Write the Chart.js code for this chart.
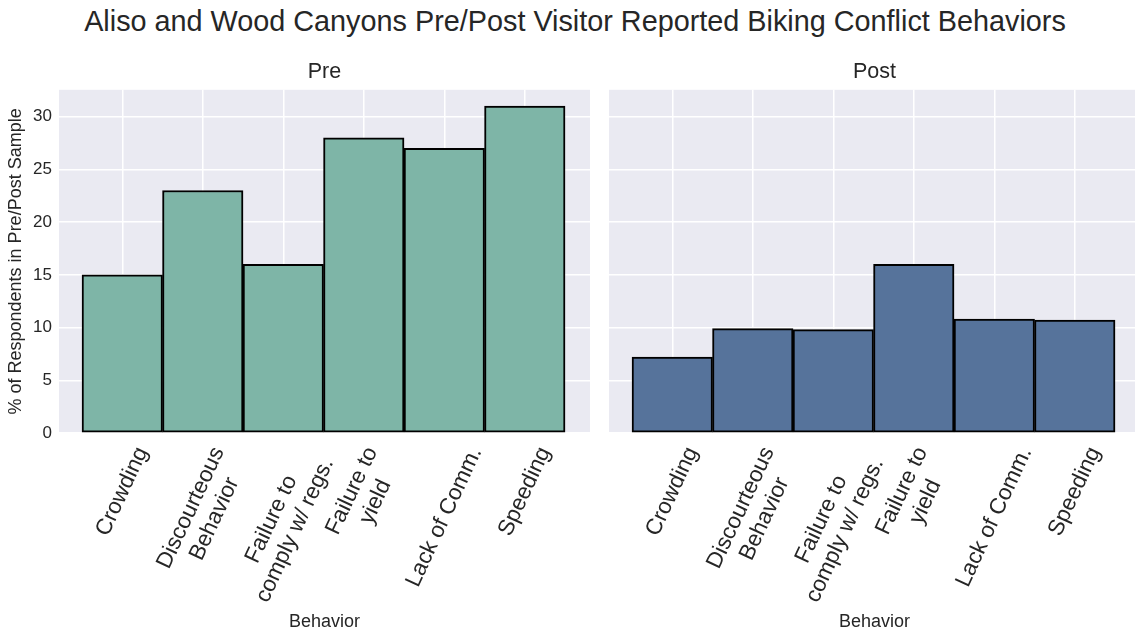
<!DOCTYPE html>
<html>
<head>
<meta charset="utf-8">
<script src="https://cdn.jsdelivr.net/npm/chart.js@4"></script>
<style>
  body { margin: 0; background: #fff; width: 1135px; height: 633px; overflow: hidden; position: relative;
         font-family: "Liberation Sans", Arial, sans-serif; }
  #title { position: absolute; left: 0; width: 1150px; top: 5px; text-align: center; font-size: 28.8px; color: #262626; }
  .box { position: absolute; top: 0; height: 633px; }
</style>
</head>
<body>
<div id="title">Aliso and Wood Canyons Pre/Post Visitor Reported Biking Conflict Behaviors</div>
<div class="box" style="left:0;width:600px"><canvas id="pre"></canvas></div>
<div class="box" style="left:600px;width:545px"><canvas id="post"></canvas></div>
<script>
const categories = ['Crowding', 'Discourteous Behavior', 'Failure to comply w/ regs.', 'Failure to yield', 'Lack of Comm.', 'Speeding'];
const tickLines = [['Crowding'], ['Discourteous', 'Behavior'], ['Failure to', 'comply w/ regs.'], ['Failure to', 'yield'], ['Lack of Comm.'], ['Speeding']];
const preValues = [15, 23, 16, 28, 27, 31];
const postValues = [7.2, 9.9, 9.8, 16, 10.8, 10.7];
const yTicks = [0, 5, 10, 15, 20, 25, 30];

const FONT = '"Liberation Sans", Arial, sans-serif';
const TXT = '#262626';

const bgPlugin = {
  id: 'bg',
  beforeDraw(chart) {
    const a = chart.chartArea, ctx = chart.ctx;
    ctx.save();
    ctx.fillStyle = '#eaeaf2';
    ctx.fillRect(a.left, a.top, a.right - a.left, a.bottom - a.top);
    ctx.restore();
  }
};

// rotated, centred tick labels like matplotlib rotation=65, ha='center'
const labelPlugin = {
  id: 'xlabels',
  afterDraw(chart) {
    const sx = chart.scales.x, ctx = chart.ctx, ang = 65 * Math.PI / 180, lh = 26;
    ctx.save();
    ctx.font = '22.5px ' + FONT;
    ctx.fillStyle = TXT;
    ctx.textAlign = 'center';
    ctx.textBaseline = 'middle';
    tickLines.forEach((lines, i) => {
      const x = sx.getPixelForValue(i);
      const w = Math.max(...lines.map(l => ctx.measureText(l).width));
      const h = lines.length * lh;
      const bh = w * Math.sin(ang) + h * Math.cos(ang);
      ctx.save();
      ctx.translate(x, sx.top + 10 + bh / 2);
      ctx.rotate(-ang);
      lines.forEach((l, j) => ctx.fillText(l, 0, (j - (lines.length - 1) / 2) * lh));
      ctx.restore();
    });
    ctx.restore();
  }
};

function makeChart(id, title, values, color, showY) {
  new Chart(document.getElementById(id), {
    type: 'bar',
    data: {
      datasets: [{
        data: values.map((v, i) => ({ x: i, y: v })),
        backgroundColor: color,
        borderColor: '#000',
        borderWidth: 2,
        borderSkipped: false,
        barPercentage: 1,
        categoryPercentage: 1
      }]
    },
    options: {
      responsive: true,
      maintainAspectRatio: false,
      animation: false,
      layout: { padding: { left: 0, right: showY ? 10 : 5, top: 0, bottom: 0 } },
      plugins: {
        legend: { display: false },
        tooltip: { enabled: false },
        title: {
          display: true, text: title, fullSize: false, color: TXT,
          font: { family: FONT, size: 21.5, weight: 'normal' },
          padding: { top: 59, bottom: 5 }
        }
      },
      scales: {
        x: {
          type: 'linear',
          offset: false,
          min: -0.786, max: 5.81,
          afterBuildTicks: s => { s.ticks = categories.map((c, i) => ({ value: i })); },
          afterFit: s => { s.height = 200; },
          grid: { color: '#fff', lineWidth: 1.5, drawTicks: false, offset: false },
          border: { display: false },
          ticks: { display: false },
          title: { display: true, text: 'Behavior', color: TXT, font: { family: FONT, size: 18 }, padding: { top: 0, bottom: 0 } }
        },
        y: {
          min: 0, max: 32.55,
          afterBuildTicks: s => { s.ticks = yTicks.map(v => ({ value: v })); },
          afterFit: s => { s.width = showY ? 59 : 9; },
          grid: { color: '#fff', lineWidth: 1.5, drawTicks: false },
          border: { display: false },
          ticks: { display: showY, padding: 7, color: TXT, font: { family: FONT, size: 17 } },
          title: { display: showY, text: '% of Respondents in Pre/Post Sample', color: TXT, font: { family: FONT, size: 18 }, padding: { top: 5, bottom: 0 } }
        }
      }
    },
    plugins: [bgPlugin, labelPlugin]
  });
}

makeChart('pre', 'Pre', preValues, '#7eb5a7', true);
makeChart('post', 'Post', postValues, '#56739b', false);
</script>
</body>
</html>
